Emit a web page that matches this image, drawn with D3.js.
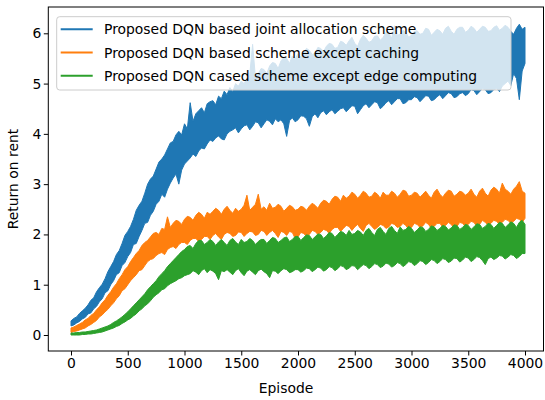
<!DOCTYPE html>
<html>
<head>
<meta charset="utf-8">
<script src="https://cdn.jsdelivr.net/npm/d3@7/dist/d3.min.js"></script>
<style>
html,body{margin:0;padding:0;background:#fff;}
svg{display:block;}
text{font-family:"DejaVu Sans",sans-serif;}
</style>
</head>
<body>
<svg id="chart" width="545" height="400"></svg>
<script>
// ---- data ----
const episodes = [
  0,25,50,75,100,125,150,175,200,225,250,275,300,325,350,375,400,425,450,475,
  500,525,550,575,600,625,650,675,700,725,750,775,800,825,850,875,900,925,950,975,
  1000,1025,1050,1075,1100,1125,1150,1175,1200,1225,1250,1275,1300,1325,1350,1375,1400,1425,1450,1475,
  1500,1525,1550,1575,1600,1625,1650,1675,1700,1725,1750,1775,1800,1825,1850,1875,1900,1925,1950,1975,
  2000,2025,2050,2075,2100,2125,2150,2175,2200,2225,2250,2275,2300,2325,2350,2375,2400,2425,2450,2475,
  2500,2525,2550,2575,2600,2625,2650,2675,2700,2725,2750,2775,2800,2825,2850,2875,2900,2925,2950,2975,
  3000,3025,3050,3075,3100,3125,3150,3175,3200,3225,3250,3275,3300,3325,3350,3375,3400,3425,3450,3475,
  3500,3525,3550,3575,3600,3625,3650,3675,3700,3725,3750,3775,3800,3825,3850,3875,3900,3925,3950,3975,
  4000];

const seriesNames = [
  "Proposed DQN based joint allocation scheme",
  "Proposed DQN based scheme except caching",
  "Proposed DQN cased scheme except edge computing"
];
const seriesColors = ["#1f77b4", "#ff7f0e", "#2ca02c"];

// lower / upper edge of each noisy curve
const jointLo = [
  0.18,0.20,0.24,0.27,0.32,0.35,0.42,0.44,0.52,0.57,0.66,0.72,0.84,0.88,1.00,1.08,1.20,1.24,1.38,1.44,
  1.56,1.64,1.80,1.82,1.96,2.08,2.22,2.24,2.38,2.46,2.60,2.66,2.80,2.74,2.90,3.02,3.12,3.20,3.00,3.28,
  3.40,3.46,3.52,3.60,3.55,3.66,3.72,3.70,3.80,3.88,3.85,3.92,3.96,3.90,3.88,4.00,4.05,4.08,4.12,4.02,
  4.10,4.16,4.18,4.08,4.15,4.24,4.22,4.12,4.20,4.28,4.25,4.18,4.30,4.24,4.28,4.20,3.95,4.26,4.32,4.24,
  4.28,4.36,4.35,4.30,4.15,4.34,4.40,4.32,4.42,4.46,4.38,4.44,4.48,4.40,4.45,4.50,4.52,4.44,4.50,4.56,
  4.55,4.40,4.48,4.56,4.60,4.52,4.58,4.64,4.62,4.50,4.55,4.62,4.66,4.58,4.64,4.70,4.70,4.60,4.62,4.68,
  4.68,4.74,4.72,4.64,4.70,4.76,4.75,4.66,4.68,4.74,4.78,4.70,4.76,4.82,4.80,4.72,4.74,4.80,4.82,4.76,
  4.80,4.88,4.86,4.78,4.84,4.90,4.88,4.80,4.82,4.88,4.90,4.84,4.95,5.00,5.05,4.96,5.20,5.10,4.68,5.25,
  5.40];
const jointHi = [
  0.28,0.33,0.36,0.43,0.48,0.53,0.60,0.69,0.74,0.86,0.94,1.01,1.12,1.26,1.36,1.46,1.60,1.68,1.82,1.98,
  2.06,2.16,2.30,2.48,2.58,2.66,2.82,3.00,3.10,3.16,3.30,3.44,3.50,3.58,3.70,3.82,3.85,3.98,4.05,3.98,
  4.20,4.10,4.62,4.25,4.40,4.46,4.52,4.42,4.60,4.64,4.66,4.58,4.75,4.70,4.85,4.78,4.92,4.84,5.00,4.95,
  5.05,5.00,5.10,5.18,5.78,5.12,5.20,5.30,5.28,5.20,5.35,5.42,5.40,5.30,5.45,5.52,5.50,5.40,5.55,5.48,
  5.60,5.52,5.62,5.70,5.66,5.58,5.60,5.72,5.70,5.64,5.74,5.80,5.78,5.70,5.72,5.84,5.82,5.76,5.85,5.92,
  5.80,5.74,5.88,5.96,5.90,5.82,5.85,5.94,5.95,5.86,5.92,6.02,6.00,5.90,6.15,5.96,5.98,6.06,6.02,5.92,
  5.96,6.04,6.05,5.98,6.00,6.10,6.08,5.96,6.02,6.08,6.05,5.98,6.10,6.14,6.04,5.98,6.08,6.12,6.12,6.02,
  6.06,6.14,6.10,6.02,6.08,6.14,6.12,6.04,6.05,6.12,6.15,6.06,6.10,6.16,6.12,6.04,5.98,6.10,6.18,6.08,
  6.12];

const cachingLo = [
  0.05,0.07,0.08,0.10,0.12,0.14,0.18,0.21,0.25,0.29,0.36,0.40,0.46,0.51,0.58,0.64,0.72,0.78,0.88,0.92,
  1.00,1.08,1.14,1.20,1.28,1.30,1.38,1.46,1.50,1.52,1.58,1.62,1.64,1.60,1.70,1.74,1.76,1.72,1.80,1.84,
  1.84,1.80,1.88,1.92,1.92,1.86,1.90,1.96,1.96,1.90,1.98,2.02,1.95,1.90,2.00,2.04,2.02,1.96,1.98,2.05,
  2.04,1.96,2.02,2.06,2.05,1.98,2.00,2.08,2.06,1.98,2.04,2.08,2.02,1.94,2.06,2.04,1.98,2.06,2.04,1.92,
  1.95,2.04,2.02,1.96,2.00,2.08,2.06,2.00,2.04,2.10,2.08,2.02,2.10,2.14,2.14,2.06,2.12,2.18,2.16,2.08,
  2.15,2.20,2.12,2.06,2.18,2.22,2.16,2.10,2.14,2.20,2.18,2.12,2.15,2.22,2.20,2.14,2.16,2.22,2.18,2.10,
  2.14,2.22,2.20,2.14,2.17,2.24,2.20,2.12,2.16,2.22,2.22,2.15,2.18,2.24,2.20,2.12,2.16,2.24,2.22,2.16,
  2.20,2.26,2.24,2.16,2.20,2.28,2.24,2.18,2.22,2.28,2.26,2.20,2.24,2.30,2.28,2.22,2.26,2.32,2.30,2.24,
  2.32];
const cachingHi = [
  0.14,0.16,0.19,0.22,0.25,0.30,0.33,0.39,0.43,0.50,0.56,0.64,0.70,0.79,0.86,0.95,1.02,1.12,1.20,1.30,
  1.36,1.46,1.54,1.62,1.68,1.78,1.84,1.88,1.95,2.02,2.04,2.00,2.12,2.10,2.35,2.14,2.22,2.28,2.26,2.20,
  2.30,2.36,2.34,2.28,2.38,2.44,2.40,2.32,2.44,2.40,2.46,2.52,2.48,2.40,2.50,2.56,2.48,2.42,2.52,2.46,
  2.50,2.58,2.78,2.48,2.54,2.60,2.80,2.50,2.55,2.48,2.62,2.52,2.54,2.60,2.56,2.46,2.52,2.58,2.55,2.48,
  2.50,2.56,2.54,2.48,2.56,2.62,2.58,2.52,2.62,2.68,2.66,2.60,2.70,2.76,2.74,2.66,2.78,2.72,2.76,2.84,
  2.80,2.72,2.78,2.86,2.82,2.74,2.76,2.84,2.80,2.72,2.84,2.78,2.78,2.86,2.82,2.74,2.80,2.88,2.86,2.76,
  2.78,2.84,2.82,2.74,2.80,2.86,2.78,2.72,2.84,2.90,2.80,2.74,2.82,2.88,2.86,2.76,2.80,2.86,2.84,2.78,
  2.82,2.90,2.80,2.74,2.86,2.92,2.82,2.76,2.88,2.94,2.90,2.82,3.02,2.90,2.86,2.80,2.90,2.96,3.05,2.86,
  2.82];

const edgeLo = [
  0.00,0.00,0.00,0.00,0.01,0.01,0.02,0.02,0.03,0.04,0.05,0.06,0.08,0.10,0.12,0.14,0.17,0.19,0.23,0.26,
  0.30,0.33,0.38,0.42,0.48,0.52,0.58,0.62,0.68,0.75,0.80,0.84,0.90,0.92,0.98,1.02,1.05,1.08,1.12,1.14,
  1.18,1.20,1.22,1.28,1.25,1.20,1.28,1.32,1.24,1.30,1.27,1.22,1.10,1.28,1.26,1.30,1.25,1.20,1.28,1.32,
  1.24,1.18,1.27,1.30,1.25,1.20,1.28,1.31,1.26,1.22,1.14,1.28,1.27,1.22,1.28,1.32,1.30,1.24,1.26,1.30,
  1.30,1.25,1.28,1.33,1.32,1.26,1.30,1.35,1.33,1.27,1.30,1.36,1.34,1.28,1.32,1.38,1.36,1.30,1.33,1.38,
  1.37,1.30,1.35,1.40,1.38,1.32,1.36,1.42,1.40,1.34,1.37,1.43,1.41,1.35,1.38,1.44,1.42,1.36,1.40,1.46,
  1.44,1.38,1.42,1.48,1.46,1.40,1.44,1.50,1.48,1.42,1.46,1.52,1.50,1.44,1.47,1.53,1.52,1.45,1.49,1.55,
  1.53,1.46,1.50,1.56,1.54,1.48,1.40,1.52,1.55,1.50,1.53,1.58,1.57,1.51,1.55,1.60,1.58,1.52,1.56,1.62,
  1.62];
const edgeHi = [
  0.04,0.04,0.05,0.05,0.06,0.06,0.07,0.08,0.09,0.10,0.12,0.14,0.16,0.18,0.21,0.25,0.28,0.32,0.36,0.41,
  0.46,0.52,0.58,0.64,0.70,0.76,0.82,0.90,0.96,1.02,1.08,1.16,1.22,1.28,1.36,1.42,1.48,1.54,1.60,1.66,
  1.70,1.76,1.78,1.72,1.82,1.88,1.88,1.80,1.84,1.90,1.86,1.78,1.85,1.90,1.84,1.78,1.88,1.92,1.85,1.80,
  1.90,1.84,1.86,1.92,1.88,1.80,1.86,1.90,1.90,1.82,1.88,1.94,1.92,1.84,1.88,1.93,1.95,1.86,1.90,1.96,
  1.96,1.88,1.94,1.99,1.98,1.90,1.95,2.01,2.00,1.92,1.97,2.04,2.02,1.94,2.00,2.06,2.04,1.98,2.08,2.00,
  2.02,2.08,2.05,1.98,2.08,2.12,2.04,1.98,2.10,2.14,2.06,2.00,2.12,2.16,2.08,2.02,2.15,2.08,2.10,2.16,
  2.12,2.04,2.09,2.15,2.14,2.06,2.10,2.17,2.15,2.08,2.12,2.18,2.16,2.09,2.13,2.19,2.18,2.10,2.14,2.20,
  2.18,2.10,2.15,2.21,2.20,2.12,2.16,2.22,2.20,2.12,2.18,2.24,2.22,2.14,2.19,2.25,2.22,2.14,2.24,2.28,
  2.20];

const xTicks = [0,500,1000,1500,2000,2500,3000,3500,4000];
const yTicks = [0,1,2,3,4,5,6];
const xLabel = "Episode";
const yLabel = "Return on rent";

// ---- layout ----
const svg = d3.select("#chart");
const box = {left: 48.3, right: 543.5, top: 7, bottom: 351};
const x = d3.scaleLinear().domain([0, 4000]).range([71, 525]);
const y = d3.scaleLinear().domain([0, 6]).range([335, 33.3]);

svg.append("defs").append("clipPath").attr("id", "clip")
  .append("rect").attr("x", box.left).attr("y", box.top)
  .attr("width", box.right - box.left).attr("height", box.bottom - box.top);

const bands = [
  {lo: jointLo, hi: jointHi},
  {lo: cachingLo, hi: cachingHi},
  {lo: edgeLo, hi: edgeHi}
];

const area = d3.area()
  .x(d => x(d.ep))
  .y0(d => y(d.lo))
  .y1(d => y(d.hi));

const plot = svg.append("g").attr("clip-path", "url(#clip)");
bands.forEach((b, i) => {
  const rows = episodes.map((ep, k) => ({ep, lo: b.lo[k], hi: b.hi[k]}));
  plot.append("path")
    .datum(rows)
    .attr("d", area)
    .attr("fill", seriesColors[i])
    .attr("stroke", seriesColors[i])
    .attr("stroke-width", 1)
    .attr("stroke-linejoin", "miter");
});

// ---- axes ----
const xAxis = d3.axisBottom(x).tickValues(xTicks).tickSize(4.5).tickPadding(2.5).tickFormat(d3.format("d"));
const gx = svg.append("g").attr("transform", `translate(0,${box.bottom})`).call(xAxis);
gx.select(".domain").remove();
gx.selectAll(".tick line").attr("stroke", "#000").attr("stroke-width", 1);
gx.selectAll(".tick text").attr("font-size", "13.9px").attr("fill", "#000")
  .attr("font-family", "DejaVu Sans").attr("dy", "0.71em");

const yAxis = d3.axisLeft(y).tickValues(yTicks).tickSize(4.5).tickPadding(2.5).tickFormat(d3.format("d"));
const gy = svg.append("g").attr("transform", `translate(${box.left},0)`).call(yAxis);
gy.select(".domain").remove();
gy.selectAll(".tick line").attr("stroke", "#000").attr("stroke-width", 1);
gy.selectAll(".tick text").attr("font-size", "13.9px").attr("fill", "#000")
  .attr("font-family", "DejaVu Sans");

// spines
svg.append("rect")
  .attr("x", box.left).attr("y", box.top)
  .attr("width", box.right - box.left).attr("height", box.bottom - box.top)
  .attr("fill", "none").attr("stroke", "#000").attr("stroke-width", 1);

// axis labels
svg.append("text").attr("x", 286).attr("y", 393)
  .attr("text-anchor", "middle").attr("font-size", "13.9px").attr("fill", "#000")
  .text(xLabel);
svg.append("text")
  .attr("transform", `translate(18,${(box.top + box.bottom) / 2}) rotate(-90)`)
  .attr("text-anchor", "middle").attr("font-size", "13.9px").attr("fill", "#000")
  .text(yLabel);

// ---- legend ----
const lg = svg.append("g");
lg.append("rect")
  .attr("x", 56.7).attr("y", 16.7).attr("width", 511 - 56.7).attr("height", 90 - 16.7)
  .attr("rx", 3).attr("ry", 3)
  .attr("fill", "#fff").attr("fill-opacity", 0.8)
  .attr("stroke", "#cccccc").attr("stroke-width", 1);
const rowY = [29.3, 52.5, 75.7];
seriesNames.forEach((name, i) => {
  lg.append("line")
    .attr("x1", 60.7).attr("x2", 92.7).attr("y1", rowY[i]).attr("y2", rowY[i])
    .attr("stroke", seriesColors[i]).attr("stroke-width", 2);
  lg.append("text")
    .attr("x", 104).attr("y", rowY[i] + 5)
    .attr("font-size", "13.9px").attr("fill", "#000")
    .text(name);
});
</script>
</body>
</html>
